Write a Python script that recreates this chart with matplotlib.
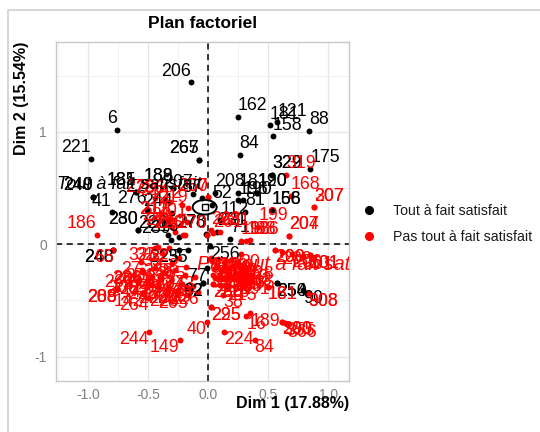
import matplotlib
matplotlib.use("Agg")
import matplotlib.pyplot as plt
from matplotlib.patches import Ellipse
from matplotlib.lines import Line2D
import numpy as np

plt.rcParams['font.family'] = ['Liberation Sans', 'DejaVu Sans']

# individuals "Tout à fait satisfait" (black)
black_x = [-0.143, -0.760, -0.976, 0.244, 0.511, 0.574, 0.539, 0.841, 0.261, -0.077,
           -0.077, 0.852, 0.530, 0.530, -0.960, -0.960, -0.805, -0.600, -0.600, -0.290,
           -0.290, -0.513, -0.583, -0.583, -0.300, -0.335, -0.020, -0.130, 0.056, 0.250,
           0.410, 0.410, 0.030, 0.100, 0.250, 0.290, 0.310, 0.530, 0.530, 0.070,
           0.180, 0.014, -0.014, -0.043, -0.043, -0.790, -0.790, -0.245, -0.170, 0.574,
           0.574, 0.790, -0.310, -0.244, -0.014, -0.050]
black_y = [1.442, 1.018, 0.763, 1.134, 1.059, 1.086, 0.964, 1.012, 0.795, 0.754,
           0.754, 0.671, 0.620, 0.620, 0.424, 0.424, 0.285, 0.466, 0.466, 0.505,
           0.505, 0.306, 0.127, 0.127, 0.280, 0.083, 0.094, 0.450, 0.460, 0.460,
           0.460, 0.460, 0.350, 0.216, 0.390, 0.390, 0.290, 0.305, 0.305, 0.110,
           0.050, -0.015, -0.214, -0.347, -0.347, -0.050, -0.050, -0.050, -0.050, -0.347,
           -0.347, -0.410, 0.039, 0.062, 0.083, 0.410]
black_lab = ['206', '6', '221', '162', '181', '121', '158', '88', '84', '265',
             '267', '175', '329', '322', '249', '240', '41', '185', '181', '188',
             '189', '276', '230', '280', '244', '226', '278', '207', '208', '181',
             '190', '120', '52', '112', '196', '190', '81', '156', '168', '231',
             '71', '256', '77', '92', '62', '246', '248', '225', '235', '250',
             '254', '90', '239', '216', '270', '57']

# individuals "Pas tout à fait satisfait" (red)
red_x = [-0.930, 0.690, 0.885, 0.885, 0.650, 0.416, 0.674, 0.674, 0.270, 0.316,
         0.344, -0.333, -0.333, -0.194, -0.210, -0.010, -0.005, -0.005, -0.360, -0.360,
         -0.444, -0.319, -0.222, -0.167, -0.180, -0.305, -0.277, 0.043, 0.100, 0.020,
         -0.416, -0.440, -0.560, -0.545, -0.545, -0.760, -0.760, -0.760, -0.790, -0.473,
         -0.500, -0.250, -0.180, -0.145, -0.496, -0.238, -0.014, 0.020, 0.020, 0.125,
         0.043, 0.043, 0.130, 0.387, 0.316, 0.350, 0.617, 0.617, 0.640, 0.660,
         0.496, 0.496, 0.832, 0.832, 0.560, 0.560, 0.617, 0.700, 0.790, 0.846,
         0.846, 0.270, -0.556, -0.444, -0.361, -0.278, -0.194, -0.111, -0.583, -0.500,
         -0.417, -0.333, -0.250, -0.167, -0.083, -0.542, -0.330, -0.387, -0.300, -0.244,
         -0.187, 0.030, 0.080, 0.130, 0.190, 0.250, 0.300, 0.050, 0.110, 0.170,
         0.230, 0.290, 0.060, 0.130, 0.200, 0.270, 0.100, 0.160, 0.020, 0.070,
         0.140, 0.210, 0.270, 0.040, 0.100, 0.170, 0.240, 0.310, -0.620, -0.470,
         -0.400, -0.310, -0.220, -0.130]
red_y = [0.083, 0.430, 0.330, 0.330, 0.620, 0.157, 0.074, 0.074, 0.030, 0.033,
         0.035, 0.216, 0.216, 0.083, 0.083, 0.083, 0.420, 0.420, 0.396, 0.396,
         0.409, 0.380, 0.350, 0.320, 0.200, 0.157, 0.112, 0.098, 0.113, 0.126,
         -0.027, -0.030, -0.154, -0.243, -0.243, -0.400, -0.400, -0.400, -0.050, -0.360,
         -0.475, -0.410, -0.390, -0.400, -0.778, -0.850, -0.688, -0.560, -0.560, -0.450,
         -0.353, -0.353, -0.778, -0.850, -0.640, -0.615, -0.690, -0.690, -0.700, -0.710,
         -0.377, -0.377, -0.436, -0.436, -0.050, -0.050, -0.065, -0.087, -0.104, -0.095,
         -0.095, -0.086, -0.229, -0.214, -0.259, -0.229, -0.273, -0.288, -0.318, -0.333,
         -0.377, -0.407, -0.436, -0.451, -0.422, -0.436, -0.036, -0.080, -0.170, -0.125,
         -0.200, -0.150, -0.130, -0.160, -0.140, -0.170, -0.200, -0.220, -0.240, -0.220,
         -0.260, -0.250, -0.300, -0.310, -0.300, -0.330, -0.360, -0.380, -0.120, -0.190,
         -0.200, -0.190, -0.220, -0.270, -0.280, -0.270, -0.290, -0.280, -0.270, -0.290,
         -0.310, -0.330, -0.350, -0.370]
red_lab = ['186', '168', '207', '307', '319', '199', '204', '207', '198', '188',
           '126', '211', '213', '220', '226', '270', '250', '267', '286', '236',
           '273', '214', '212', '219', '201', '229', '276', '261', '281', '263',
           '325', '32', '27', '206', '266', '209', '288', '208', '65', '142',
           '264', '220', '226', '205', '244', '149', '40', '225', '295', '38',
           '280', '250', '224', '84', '16', '189', '300', '200', '355', '366',
           '161', '181', '908', '308', '299', '200', '209', '206', '301', '101',
           '501', '30', '286', '271', '203', '233', '237', '243', '206', '289',
           '228', '290', '226', '205', '226', '142', '32', '35', '238', '253',
           '255', '60', '230', '282', '20', '92', '128', '133', '140', '147',
           '151', '163', '172', '178', '183', '191', '210', '215', '127', '74',
           '106', '115', '119', '131', '136', '144', '157', '165', '266', '274',
           '279', '284', '287', '223']

groups = ['Tout à fait satisfait', 'Pas tout à fait satisfait']
group_colors = ['black', '#FF0000']

fig = plt.figure(figsize=(5.4, 4.32), dpi=100)
ax = fig.add_axes([0.1033, 0.1181, 0.5439, 0.7854])

ax.set_xlim(-1.271, 1.177)
ax.set_ylim(-1.217, 1.804)
ax.set_xticks([-1.0, -0.5, 0.0, 0.5, 1.0])
ax.set_xticklabels(['-1.0', '-0.5', '0.0', '0.5', '1.0'])
ax.set_yticks([-1, 0, 1])
ax.set_yticklabels(['-1', '0', '1'])
ax.set_xticks([-1.25, -0.75, -0.25, 0.25, 0.75], minor=True)
ax.set_yticks([-0.5, 0.5, 1.5], minor=True)
ax.grid(True, which='major', color='#E6E6E6', lw=0.9)
ax.grid(True, which='minor', color='#F0F0F0', lw=0.6)
ax.set_axisbelow(True)
for s in ax.spines.values():
    s.set_color('#C8C8C8')
    s.set_linewidth(1.0)
ax.tick_params(which='both', length=0, labelcolor='#7F7F7F', labelsize=10)
ax.tick_params(axis='x', pad=5)
ax.tick_params(axis='y', pad=6.5)

ax.axhline(0, color='black', lw=1.1, ls=(0, (4, 3)), zorder=1)
ax.axvline(0, color='black', lw=1.1, ls=(0, (4, 3)), zorder=1)

ax.scatter(black_x, black_y, s=18, color=group_colors[0], zorder=2, linewidths=0)
ax.scatter(red_x, red_y, s=18, color=group_colors[1], zorder=2, linewidths=0)


def put_labels(xs, ys, labs, col):
    for x, y, t in zip(xs, ys, labs):
        ha = 'left' if x > 0 else 'right'
        if y > 0:
            va, dy = 'baseline', 4.7
        else:
            va, dy = 'top', 0.3
        ax.annotate(t, (x, y), xytext=(0, dy), textcoords='offset points',
                    ha=ha, va=va, fontsize=12.8, color=col, zorder=3,
                    annotation_clip=True)


put_labels(black_x, black_y, black_lab, group_colors[0])
put_labels(red_x, red_y, red_lab, group_colors[1])

# category labels (italic)
ax.text(-1.26, 0.528, groups[0], style='italic', fontsize=13, color='black',
        ha='left', va='center', clip_on=True, zorder=3)
ax.text(-0.094, -0.184, groups[1], style='italic', fontsize=14.3,
        color=group_colors[1], ha='left', va='center', clip_on=True, zorder=3)

# ellipse with centre marker
ax.add_patch(Ellipse((-0.03, 0.33), 0.20, 0.13, fill=False, ec='black', lw=1.4, zorder=4))
ax.plot([-0.03], [0.333], marker='s', ms=4.5, mfc='white', mec='black', mew=1.0, zorder=5)

ax.set_xlabel('Dim 1 (17.88%)', loc='right', fontweight='bold', fontsize=11.5)
ax.xaxis.set_label_coords(1.0, -0.043)
ax.set_ylabel('Dim 2 (15.54%)', fontweight='bold', fontsize=11.5)
ax.yaxis.label.set(ha='center', va='top', rotation_mode='default')
ax.yaxis.set_label_coords(-0.117, 1.0)

fig.text(202.6 / 540, 1 - 23.5 / 432, 'Plan factoriel', ha='center', va='center',
         fontweight='bold', fontsize=12.5)

handles = [Line2D([], [], ls='none', marker='o', ms=5.5, color=c) for c in group_colors]
fig.legend(handles, groups, loc='center left', bbox_to_anchor=(355 / 540, 1 - 224 / 432),
           frameon=False, fontsize=10.2, handlelength=1.0, handletextpad=1.15,
           labelspacing=0.85, borderpad=0, labelcolor='#1A1A1A')

# outer frame of the screenshot
fig.add_artist(Line2D([7.5 / 540, 7.5 / 540, 1.0], [0.0, 1 - 9.5 / 432, 1 - 9.5 / 432],
                      transform=fig.transFigure, color='#D0D0D0', lw=1.2))

fig.savefig('out.png', dpi=100)
